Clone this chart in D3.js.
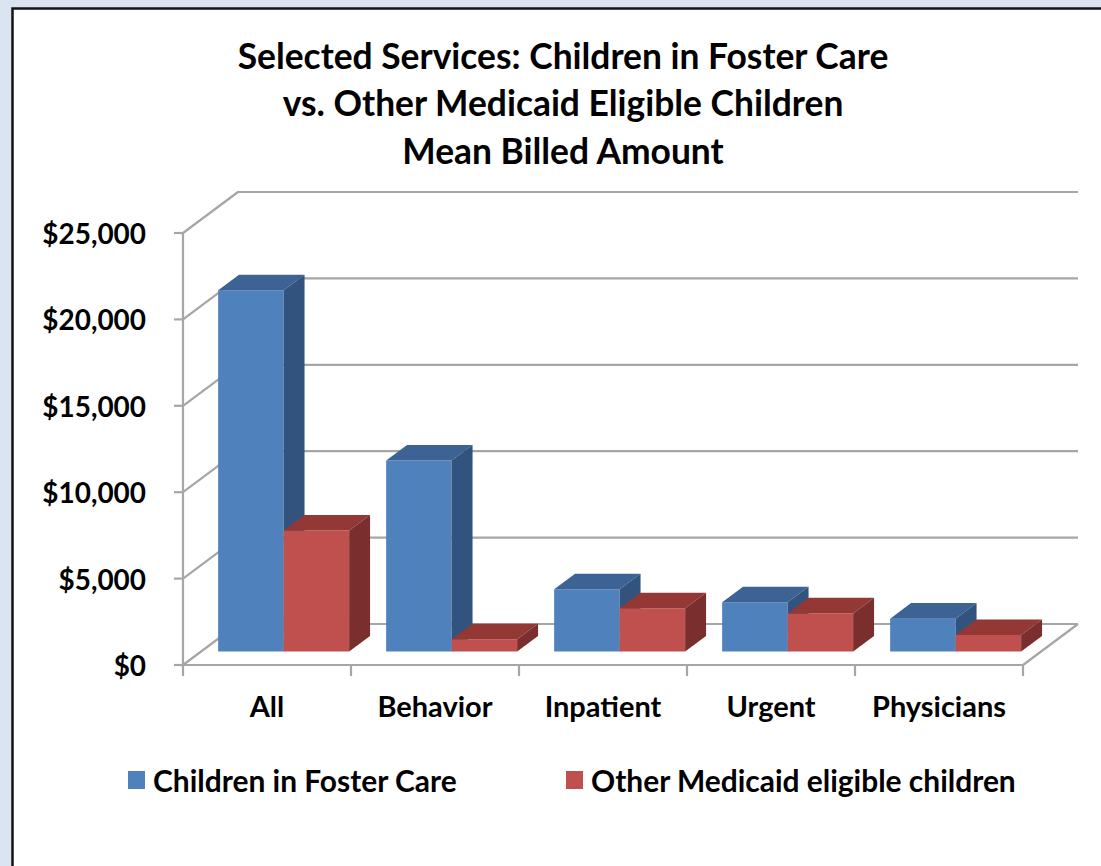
<!DOCTYPE html>
<html>
<head>
<meta charset="utf-8">
<script src="https://cdn.jsdelivr.net/npm/d3@7"></script>
<style>
  html, body { margin: 0; padding: 0; background: #dbe5f1; }
  svg { display: block; }
  text { font-family: Lato, "Open Sans", "Noto Sans", sans-serif; font-weight: bold; fill: #000; }
</style>
</head>
<body>
<svg id="chart" width="1101" height="866"></svg>
<script>
// ---------------- data ----------------
const categories = ["All", "Behavior", "Inpatient", "Urgent", "Physicians"];
const seriesNames = ["Children in Foster Care", "Other Medicaid eligible children"];
const fosterCareValues = [20900, 11050, 3600, 2850, 1900];
const otherMedicaidValues = [7000, 700, 2500, 2200, 950];
const yTickValues = [0, 5000, 10000, 15000, 20000, 25000];
const titleLines = ["Selected Services: Children in Foster Care",
                    "vs. Other Medicaid Eligible Children",
                    "Mean Billed Amount"];

// ---------------- layout ----------------
const svg = d3.select("#chart");
const W = 1101, H = 866;
const frontLeft = 183, frontRight = 1023;
const yBottom = 665, yTop = 233;
const depthDX = 55, depthDY = -41;          // full-depth offset of the back wall
const barZ0 = 0.33, barZ1 = 0.71;          // bar depth span (fraction of full depth)
const gridColor = "#a6a6a6";

const colors = {
  front: ["#4f81bd", "#c0504d"],
  top:   ["#3c6393", "#943836"],
  side:  ["#32537e", "#7a2f2e"]
};

const y = d3.scaleLinear().domain([0, 25000]).range([yBottom, yTop]);
const xCat = d3.scaleBand().domain(categories).range([frontLeft, frontRight]).padding(0);
const xSer = d3.scaleBand().domain(seriesNames).range([17, 148]).padding(0);

const P = (x, v, z) => [x + z * depthDX, y(v) + z * depthDY];
const poly = pts => "M" + pts.map(p => p.join(",")).join("L") + "Z";
const line = pts => "M" + pts.map(p => p.join(",")).join("L");

// background frame
svg.append("rect").attr("x", 0).attr("y", 0).attr("width", W).attr("height", H).attr("fill", "#dbe5f1");
svg.append("rect").attr("x", 12.5).attr("y", 8.5).attr("width", W + 20).attr("height", H + 20)
  .attr("fill", "#ffffff").attr("stroke", "#151515").attr("stroke-width", 2.5);

// ---------------- walls / gridlines ----------------
const grid = svg.append("g").attr("fill", "none").attr("stroke", gridColor).attr("stroke-width", 2.2)
  .attr("stroke-linejoin", "round");

yTickValues.forEach(v => {
  grid.append("path").attr("d", line([
    [frontLeft, y(v)],
    P(frontLeft, v, 1),
    P(frontRight, v, 1)
  ]));
});
// floor front + right edges
grid.append("path").attr("d", line([
  [frontLeft, y(0)], [frontRight, y(0)], P(frontRight, 0, 1)
]));
// vertical axis
grid.append("path").attr("d", line([[frontLeft, y(0)], [frontLeft, y(25000)]]));
// y ticks
yTickValues.forEach(v => {
  grid.append("path").attr("d", line([[frontLeft - 9, y(v)], [frontLeft, y(v)]]));
});
// category ticks
const catEdges = categories.map(c => xCat(c)).concat([frontRight]);
catEdges.forEach(x => {
  grid.append("path").attr("d", line([[x, y(0)], [x, y(0) + 11]]));
});

// ---------------- bars ----------------
const seriesValues = [fosterCareValues, otherMedicaidValues];
const bars = svg.append("g");
categories.forEach((c, i) => {
  seriesNames.forEach((s, j) => {
    const v = seriesValues[j][i];
    const x0 = xCat(c) + xSer(s);
    const x1 = x0 + xSer.bandwidth();
    const g = bars.append("g");
    g.append("path").attr("d", poly([P(x0, 0, barZ0), P(x1, 0, barZ0), P(x1, v, barZ0), P(x0, v, barZ0)]))
      .attr("fill", colors.front[j]);
    g.append("path").attr("d", poly([P(x0, v, barZ0), P(x1, v, barZ0), P(x1, v, barZ1), P(x0, v, barZ1)]))
      .attr("fill", colors.top[j]);
    g.append("path").attr("d", poly([P(x1, 0, barZ0), P(x1, v, barZ0), P(x1, v, barZ1), P(x1, 0, barZ1)]))
      .attr("fill", colors.side[j]);
  });
});

// ---------------- text helpers ----------------
function fitSize(sample, targetWidth, base) {
  const t = svg.append("text").attr("font-size", base).text(sample);
  const w = t.node().getBBox().width;
  t.remove();
  return base * targetWidth / w;
}

// title
const titleSize = fitSize(titleLines[0], 651, 30);
svg.append("g").selectAll("text").data(titleLines).join("text")
  .attr("x", 563).attr("y", (d, i) => 55 + i * 47.5)
  .attr("text-anchor", "middle").attr("dominant-baseline", "central")
  .attr("font-size", titleSize).text(d => d);

// y-axis labels
const yLabSize = fitSize("$25,000", 104, 22);
const fmt = d3.format("$,");
svg.append("g").selectAll("text").data(yTickValues).join("text")
  .attr("x", 146).attr("y", d => y(d))
  .attr("text-anchor", "end").attr("dominant-baseline", "central")
  .attr("font-size", yLabSize).text(d => fmt(d));

// category labels
const catSize = fitSize("Physicians", 134, 22);
svg.append("g").selectAll("text").data(categories).join("text")
  .attr("x", d => xCat(d) + xCat.bandwidth() / 2).attr("y", 705)
  .attr("text-anchor", "middle").attr("dominant-baseline", "central")
  .attr("font-size", catSize).text(d => d);

// legend
const legSize = fitSize(seriesNames[1], 425, 22);
const legX = [128, 566];
const leg = svg.append("g");
seriesNames.forEach((s, j) => {
  leg.append("rect").attr("x", legX[j]).attr("y", 771).attr("width", 17).attr("height", 18)
    .attr("fill", colors.front[j]);
  leg.append("text").attr("x", legX[j] + 25).attr("y", 780)
    .attr("dominant-baseline", "central").attr("font-size", legSize).text(s);
});
</script>
</body>
</html>
